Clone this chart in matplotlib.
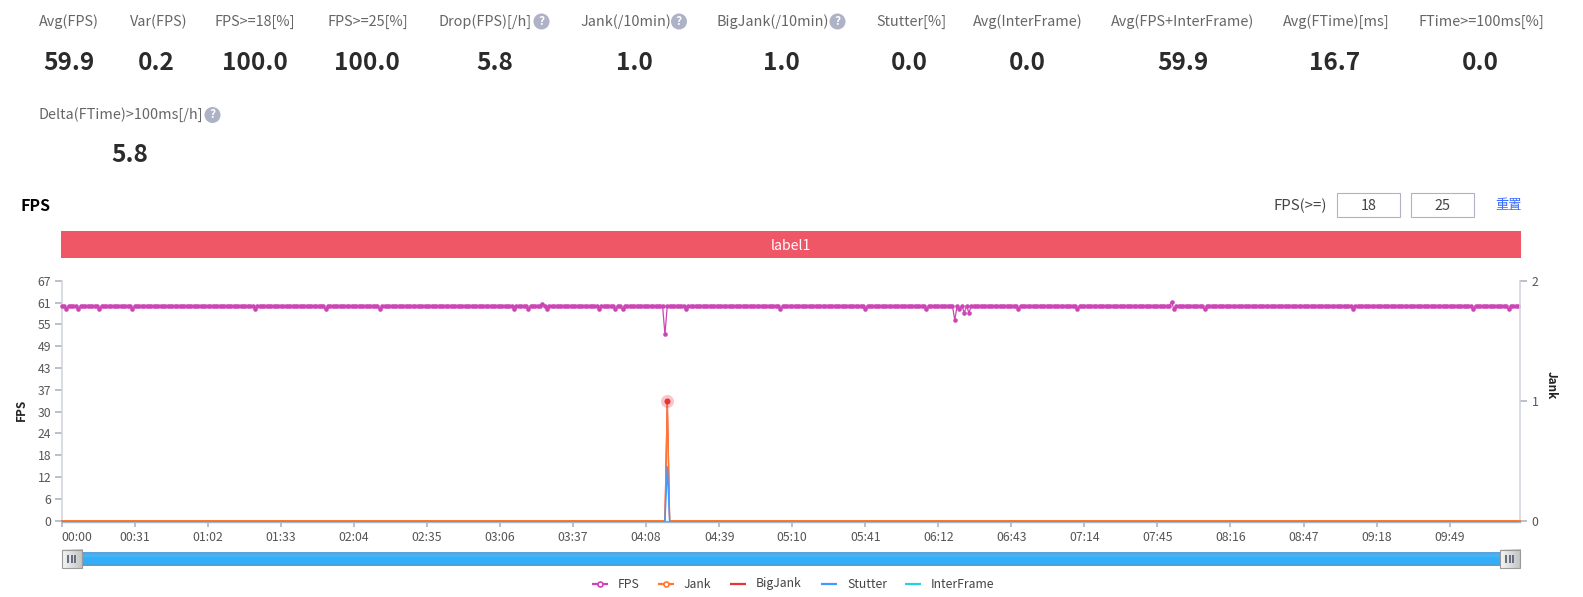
import numpy as np
import matplotlib
matplotlib.use("Agg")
import matplotlib.pyplot as plt
from matplotlib.patches import Rectangle, Circle

plt.rcParams["font.family"] = ["Noto Sans CJK SC", "DejaVu Sans"]

W, H = 1583, 597

# header stats
stat_labels = ["Avg(FPS)", "Var(FPS)", "FPS>=18[%]", "FPS>=25[%]", "Drop(FPS)[/h]", "Jank(/10min)",
               "BigJank(/10min)", "Stutter[%]", "Avg(InterFrame)", "Avg(FPS+InterFrame)", "Avg(FTime)[ms]",
               "FTime>=100ms[%]", "Delta(FTime)>100ms[/h]"]
stat_values = ["59.9", "0.2", "100.0", "100.0", "5.8", "1.0", "1.0", "0.0", "0.0", "59.9", "16.7", "0.0", "5.8"]

# one fps sample per second, 31 per row (one row per x tick)
fps = [
    60, 60, 59, 60, 60, 60, 60, 59, 60, 60, 60, 60, 60, 60, 60, 60, 59, 60, 60, 60, 60, 60, 60, 60, 60, 60, 60, 60, 60, 60, 59,
    60, 60, 60, 60, 60, 60, 60, 60, 60, 60, 60, 60, 60, 60, 60, 60, 60, 60, 60, 60, 60, 60, 60, 60, 60, 60, 60, 60, 60, 60,
    60, 60, 60, 60, 60, 60, 60, 60, 60, 60, 60, 60, 60, 60, 60, 60, 60, 60, 60, 60, 60, 59, 60, 60, 60, 60, 60, 60, 60, 60, 60,
    60, 60, 60, 60, 60, 60, 60, 60, 60, 60, 60, 60, 60, 60, 60, 60, 60, 60, 60, 60, 59, 60, 60, 60, 60, 60, 60, 60, 60, 60, 60,
    60, 60, 60, 60, 60, 60, 60, 60, 60, 60, 60, 60, 59, 60, 60, 60, 60, 60, 60, 60, 60, 60, 60, 60, 60, 60, 60, 60, 60, 60, 60,
    60, 60, 60, 60, 60, 60, 60, 60, 60, 60, 60, 60, 60, 60, 60, 60, 60, 60, 60, 60, 60, 60, 60, 60, 60, 60, 60, 60, 60, 60, 60,
    60, 60, 60, 60, 60, 60, 60, 59, 60, 60, 60, 60, 60, 59, 60, 60, 60, 60, 60, 60.5, 60, 59, 60, 60, 60, 60, 60, 60, 60, 60, 60,
    60, 60, 60, 60, 60, 60, 60, 60, 60, 60, 60, 60, 59, 60, 60, 60, 60, 60, 60, 59, 60, 60, 59, 60, 60, 60, 60, 60, 60, 60, 60,
    60, 60, 60, 60, 60, 60, 60, 60, 60, 52, 60, 60, 60, 60, 60, 60, 60, 60, 59, 60, 60, 60, 60, 60, 60, 60, 60, 60, 60, 60, 60,
    60, 60, 60, 60, 60, 60, 60, 60, 60, 60, 60, 60, 60, 60, 60, 60, 60, 60, 60, 60, 60, 60, 60, 60, 60, 60, 60, 59, 60, 60, 60,
    60, 60, 60, 60, 60, 60, 60, 60, 60, 60, 60, 60, 60, 60, 60, 60, 60, 60, 60, 60, 60, 60, 60, 60, 60, 60, 60, 60, 60, 60, 60,
    60, 59, 60, 60, 60, 60, 60, 60, 60, 60, 60, 60, 60, 60, 60, 60, 60, 60, 60, 60, 60, 60, 60, 60, 60, 60, 60, 59, 60, 60, 60,
    60, 60, 60, 60, 60, 60, 60, 60, 56, 60, 59, 60, 58, 60, 58, 60, 60, 60, 60, 60, 60, 60, 60, 60, 60, 60, 60, 60, 60, 60, 60,
    60, 60, 60, 60, 59, 60, 60, 60, 60, 60, 60, 60, 60, 60, 60, 60, 60, 60, 60, 60, 60, 60, 60, 60, 60, 60, 60, 60, 60, 59, 60,
    60, 60, 60, 60, 60, 60, 60, 60, 60, 60, 60, 60, 60, 60, 60, 60, 60, 60, 60, 60, 60, 60, 60, 60, 60, 60, 60, 60, 60, 60, 60,
    60, 60, 60, 60, 60, 60, 60, 61, 59, 60, 60, 60, 60, 60, 60, 60, 60, 60, 60, 60, 60, 59, 60, 60, 60, 60, 60, 60, 60, 60, 60,
    60, 60, 60, 60, 60, 60, 60, 60, 60, 60, 60, 60, 60, 60, 60, 60, 60, 60, 60, 60, 60, 60, 60, 60, 60, 60, 60, 60, 60, 60, 60,
    60, 60, 60, 60, 60, 60, 60, 60, 60, 60, 60, 60, 60, 60, 60, 60, 60, 60, 60, 60, 60, 60, 59, 60, 60, 60, 60, 60, 60, 60, 60,
    60, 60, 60, 60, 60, 60, 60, 60, 60, 60, 60, 60, 60, 60, 60, 60, 60, 60, 60, 60, 60, 60, 60, 60, 60, 60, 60, 60, 60, 60, 60,
    60, 60, 60, 60, 60, 60, 60, 60, 60, 60, 60, 59, 60, 60, 60, 60, 60, 60, 60, 60, 60, 60, 60, 60, 60, 60, 59, 60, 60, 60, 60,
]
seconds = np.arange(len(fps))

# right axis series, only the vertices of each line
line_seconds = [0, 256, 257, 258, 619]
jank = [0, 0, 1, 0, 0]
bigjank = [0, 0, 1, 0, 0]
stutter = [0, 0, 0.45, 0, 0]
interframe = [0, 0, 0, 0, 0]

x_ticks = [0, 31, 62, 93, 124, 155, 186, 217, 248, 279, 310, 341, 372, 403, 434, 465, 496, 527, 558, 589]
x_labels = ["00:00", "00:31", "01:02", "01:33", "02:04", "02:35", "03:06", "03:37", "04:08", "04:39",
            "05:10", "05:41", "06:12", "06:43", "07:14", "07:45", "08:16", "08:47", "09:18", "09:49"]
y_ticks = [0, 6.09, 12.18, 18.27, 24.36, 30.45, 36.55, 42.64, 48.73, 54.82, 60.91, 67]
y_labels = ["0", "6", "12", "18", "24", "30", "37", "43", "49", "55", "61", "67"]

FPS_C = "#cb45b5"
JANK_C = "#ff7733"
BIG_C = "#e8333a"
STUT_C = "#4499ff"
INTER_C = "#22d3e8"
AXIS_C = "#cfd2dd"
TICK_C = "#a9aebf"
TEXT_C = "#555555"

fig = plt.figure(figsize=(W / 100, H / 100), dpi=100, facecolor="white")

# overlay in pixel coordinates for the page parts around the chart
page = fig.add_axes([0, 0, 1, 1], zorder=0)
page.axis("off")

label_pos = [(39.3, 21.5), (129.6, 21.5), (214.8, 21.5), (327.5, 21.5), (439, 21.5), (580, 21.5), (717, 21.5), (876, 21.5),
             (973, 21.5), (1111, 21.5), (1283, 21.5), (1419, 21.5), (39, 115)]
value_pos = [(68.5, 63), (156.8, 63), (255, 63), (367, 63), (494.5, 63), (634, 63), (781.5, 63), (909.6, 63),
             (1027, 63), (1182.5, 63), (1335, 63), (1480, 63), (129.6, 155.5)]
for s, (x, y) in zip(stat_labels, label_pos):
    page.text(x, y, s, fontsize=10.4, color="#666666", ha="left", va="center")
for s, (x, y) in zip(stat_values, value_pos):
    page.text(x, y, s, fontsize=17.6, color="#2b2b2b", fontweight="bold", ha="center", va="center")

# help icons
for x, y in [(541.5, 21.5), (679, 21.5), (837.5, 21.5), (212.5, 115)]:
    page.add_patch(Circle((x, y), 8, color="#aeb2c6", lw=0))
    page.text(x, y, "?", fontsize=8.5, color="white", fontweight="bold", ha="center", va="center")

page.text(21, 206, "FPS", fontsize=11.5, color="black", fontweight="bold", ha="left", va="center")
page.text(1274, 205.5, "FPS(>=)", fontsize=10.8, color="#444444", ha="left", va="center")
for x0, x1, s in [(1337.5, 1400.5, "18"), (1411, 1474.5, "25")]:
    page.add_patch(Rectangle((x0, 193), x1 - x0, 23.5, fc="white", ec="#b0b3c8", lw=0.8))
    page.text((x0 + x1) / 2, 205.5, s, fontsize=10.4, color="#444444", ha="center", va="center")
page.text(1495, 205.5, "重置", fontsize=9.5, color="#3b6cff", ha="left", va="center")

page.add_patch(Rectangle((61, 231), 1460, 27, fc="#ef5666", lw=0))
page.text(791, 245.5, "label1", fontsize=10.2, color="white", ha="center", va="center")

page.text(21, 410, "FPS", fontsize=8.5, color="#222222", fontweight="bold", rotation=90, ha="center", va="center")
page.text(1551, 385, "Jank", fontsize=8.5, color="#222222", fontweight="bold", rotation=-90, ha="center", va="center")

# slider
blue = np.array([[0.36, 0.64, 0.85], [0.27, 0.72, 0.98], [0.21, 0.69, 0.97], [0.20, 0.68, 0.97], [0.20, 0.68, 0.97], [0.30, 0.64, 0.85]])
page.imshow(blue[:, None, :], extent=(61.7, 1520.3, 565.7, 552), aspect="auto", zorder=1, interpolation="bilinear")
for x0 in [61.7, 1499.7]:
    shade = np.linspace(0.96, 0.76, 32)[None, :]
    page.imshow(shade, extent=(x0, x0 + 20.6, 568.3, 549.7), aspect="auto", cmap="gray", vmin=0, vmax=1, zorder=2)
    page.add_patch(Rectangle((x0, 549.7), 20.6, 18.6, fc="none", ec="#9a9a9a", lw=0.8, zorder=3))
    for dx in [-3.5, 0, 3.5]:
        page.add_patch(Rectangle((x0 + 10.3 + dx - 1, 555), 2, 8, fc="#6a6f7f", lw=0, zorder=3))

# legend drawn by hand at the places it has in the chart
legend_items = [("FPS", FPS_C, True, 592.3, 618), ("Jank", JANK_C, True, 658.3, 684), ("BigJank", BIG_C, False, 730, 756),
                ("Stutter", STUT_C, False, 821, 847), ("InterFrame", INTER_C, False, 905, 931)]
for name, c, has_marker, x0, tx in legend_items:
    page.plot([x0, x0 + 16], [584, 584], color=c, lw=1.6, solid_capstyle="butt")
    if has_marker:
        page.plot([x0 + 8], [584], "o", ms=3.6, mfc="white", mec=c, mew=1.2)
    page.text(tx, 584, name, fontsize=8.8, color="#444444", ha="left", va="center")

page.set_xlim(0, W)
page.set_ylim(H, 0)

# main chart
left, right, top, bottom = 61.7, 1520.3, 280.7, 520.7
ax = fig.add_axes([left / W, 1 - bottom / H, (right - left) / W, (bottom - top) / H], zorder=2)
ax.patch.set_alpha(0)
ax2 = ax.twinx()

ax.plot(seconds, fps, color=FPS_C, lw=0.9, marker="o", ms=3.3, mew=0, clip_on=False, zorder=3)
ax.set_xlim(0, 619)
ax.set_ylim(0, 67)
ax.set_yticks(y_ticks)
ax.set_yticklabels(y_labels)
ax.set_xticks(x_ticks)
ax.set_xticklabels(x_labels)

ax2.plot(line_seconds, interframe, color=INTER_C, lw=1.0, clip_on=False, zorder=2)
ax2.plot(line_seconds, bigjank, color=BIG_C, lw=0.9, clip_on=False, zorder=3)
ax2.plot(line_seconds, jank, color=JANK_C, lw=1.0, clip_on=False, zorder=4)
# the blue peak sits over the orange one, the flat part under it
ax2.plot(line_seconds[1:4], stutter[1:4], color=STUT_C, lw=1.1, clip_on=False, zorder=5)
peak = jank.index(max(jank))
ax2.scatter(line_seconds[peak], bigjank[peak], s=88, color=BIG_C, alpha=0.28, lw=0, zorder=5, clip_on=False)
ax2.scatter(line_seconds[peak], bigjank[peak], s=19, color=BIG_C, lw=0, zorder=6, clip_on=False)
ax2.set_ylim(0, 2)
ax2.set_yticks([0, 1, 2])

for a in (ax, ax2):
    for side in a.spines:
        a.spines[side].set_visible(False)
ax.spines["left"].set_visible(True)
ax.spines["left"].set_color(AXIS_C)
ax.spines["left"].set_linewidth(1.1)
ax.spines["bottom"].set_visible(True)
ax.spines["bottom"].set_color("#b4b8c7")
ax.spines["bottom"].set_linewidth(1.0)
ax.spines["bottom"].set_position(("outward", 1.2))
ax2.spines["right"].set_visible(True)
ax2.spines["right"].set_color(AXIS_C)
ax2.spines["right"].set_linewidth(1.1)

ax.tick_params(axis="y", length=5, width=1.1, color=TICK_C, labelsize=8.8, labelcolor=TEXT_C, pad=2.6)
ax.tick_params(axis="x", length=3.6, width=1.1, color=TICK_C, labelsize=8.8, labelcolor=TEXT_C, pad=2.6)
ax2.tick_params(axis="y", length=5, width=1.1, color=TICK_C, labelsize=8.8, labelcolor=TEXT_C, pad=3.0)

# first time label starts at the axis instead of being centred on its tick
fig.canvas.draw()
ax.xaxis.get_major_ticks()[0].label1.set_horizontalalignment("left")

fig.savefig("out.png", dpi=100, facecolor="white")
